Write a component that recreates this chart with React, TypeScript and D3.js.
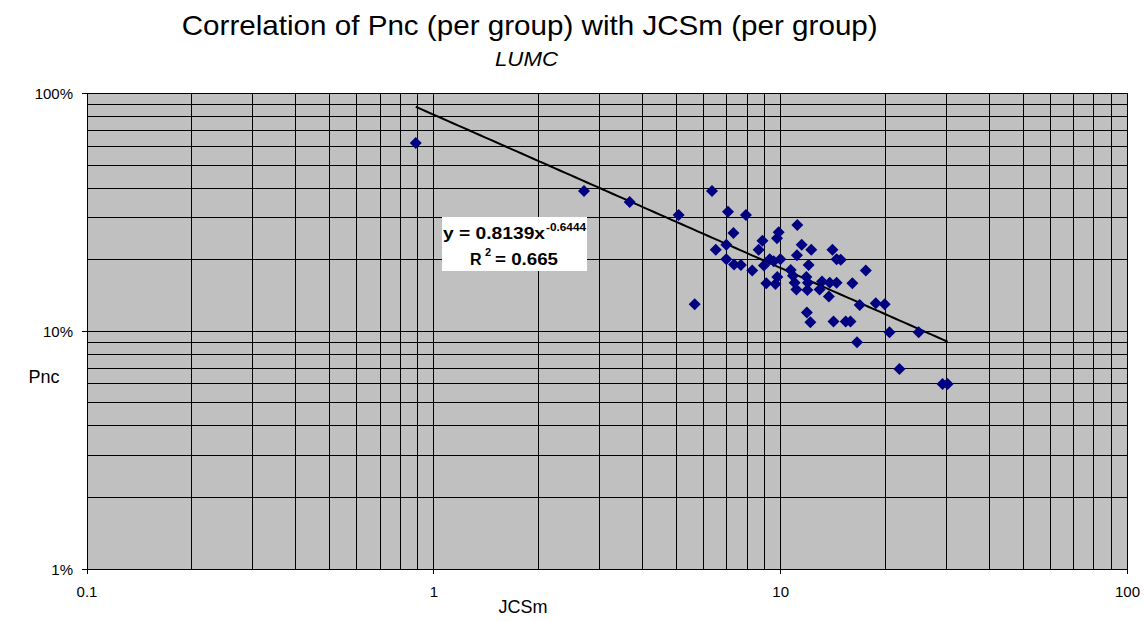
import React from "react";
import * as d3 from "d3";

const jcsm: number[] = [
  0.887, 2.71, 3.67, 5.08, 5.65, 6.34, 7.05, 7.94, 11.17, 7.31,
  9.87, 9.76, 8.86, 6.97, 11.5, 12.25, 14.1, 6.5, 8.64, 11.14,
  14.5, 14.9, 6.97, 9.3, 9.98, 7.34, 7.68, 8.95, 9.55, 12.04,
  17.6, 8.28, 10.69, 10.85, 11.86, 9.78, 9.09, 9.66, 10.97, 11.98,
  13.16, 13.85, 14.5, 16.1, 11.1, 11.94, 12.95, 13.77, 16.9, 18.8,
  19.95, 11.9, 12.18, 14.2, 15.4, 15.9, 20.6, 25.0, 16.6, 22.0,
  29.3, 30.3,
];
const pnc: number[] = [
  0.619, 0.389, 0.35, 0.308, 0.13, 0.389, 0.318, 0.308, 0.28, 0.259,
  0.261, 0.246, 0.24, 0.231, 0.231, 0.22, 0.22, 0.22, 0.22, 0.209,
  0.201, 0.2, 0.201, 0.201, 0.201, 0.191, 0.19, 0.189, 0.197, 0.19,
  0.18, 0.18, 0.181, 0.171, 0.169, 0.169, 0.159, 0.158, 0.16, 0.16,
  0.162, 0.16, 0.16, 0.159, 0.15, 0.149, 0.15, 0.14, 0.129, 0.131,
  0.13, 0.12, 0.109, 0.11, 0.11, 0.11, 0.099, 0.099, 0.09, 0.0694,
  0.06, 0.06,
];

const xTickLabels = ["0.1", "1", "10", "100"];
const yTickLabels = ["1%", "10%", "100%"];
const fitA = 0.8139;
const fitB = -0.6444;
const fitR2 = "0.665";

const W = 1148, H = 621;
const L = 87, R = 1127.5, T = 93.5, B = 569;

export default function App() {
  const x = d3.scaleLog().domain([0.1, 100]).range([L, R]);
  const y = d3.scaleLog().domain([0.01, 1]).range([B, T]);

  const xMinor: number[] = [];
  const yMinor: number[] = [];
  for (const dec of [0.1, 1, 10]) for (let k = 1; k <= 10; k++) xMinor.push(dec * k);
  for (const dec of [0.01, 0.1]) for (let k = 1; k <= 10; k++) yMinor.push(dec * k);

  const xMin = d3.min(jcsm)!, xMax = d3.max(jcsm)!;
  const fitPts = d3.range(0, 101).map(i => {
    const xv = xMin * Math.pow(xMax / xMin, i / 100);
    return [x(xv), y(fitA * Math.pow(xv, fitB))] as [number, number];
  });
  const line = d3.line()(fitPts) || "";
  const diamond = (cx: number, cy: number) => `M${cx},${cy - 6}L${cx + 6},${cy}L${cx},${cy + 6}L${cx - 6},${cy}Z`;
  const font = "'Liberation Sans', Arial, sans-serif";

  return (
    <svg width={W} height={H} style={{ position: "absolute", left: 0, top: 0, background: "#fff" }} fontFamily={font}>
      <rect x={L} y={T} width={R - L} height={B - T} fill="#C0C0C0" />
      <g shapeRendering="crispEdges" stroke="#000" strokeWidth={1}>
        {xMinor.map((v, i) => (
          <line key={"gx" + i} x1={x(v)} x2={x(v)} y1={T} y2={B} />
        ))}
        {yMinor.map((v, i) => (
          <line key={"gy" + i} x1={L} x2={R} y1={y(v)} y2={y(v)} />
        ))}
        {[0.1, 1, 10, 100].map((v, i) => (
          <line key={"tx" + i} x1={x(v)} x2={x(v)} y1={B} y2={B + 5} />
        ))}
        {[0.01, 0.1, 1].map((v, i) => (
          <line key={"ty" + i} x1={L - 5} x2={L} y1={y(v)} y2={y(v)} />
        ))}
        <rect x={L} y={T} width={R - L} height={B - T} fill="none" />
      </g>
      <path d={line} fill="none" stroke="#000" strokeWidth={2} />
      {jcsm.map((v, i) => (
        <path key={"p" + i} d={diamond(x(v), y(pnc[i]))} fill="#000080" />
      ))}
      <rect x={442} y={217} width={145} height={54} fill="#fff" />
      <g fontWeight="bold" fill="#000">
        <text x={443} y={238.5} fontSize={16} textLength={102} lengthAdjust="spacingAndGlyphs">{`y = ${fitA}x`}</text>
        <text x={546} y={230.5} fontSize={11} textLength={40} lengthAdjust="spacingAndGlyphs">{fitB}</text>
        <text x={470} y={265} fontSize={16}>R</text>
        <text x={485} y={256} fontSize={11}>2</text>
        <text x={495} y={265} fontSize={16} textLength={63} lengthAdjust="spacingAndGlyphs">{`= ${fitR2}`}</text>
      </g>
      {xTickLabels.map((t, i) => (
        <text key={"xl" + i} x={x(Math.pow(10, i - 1))} y={597} fontSize={15} textAnchor="middle" fill="#000">{t}</text>
      ))}
      {yTickLabels.map((t, i) => (
        <text key={"yl" + i} x={73} y={y(Math.pow(10, i - 2)) + 5.5} fontSize={15} textAnchor="end" fill="#000">{t}</text>
      ))}
      <text x={181.7} y={35} fontSize={28} textLength={696} lengthAdjust="spacingAndGlyphs" fill="#000">Correlation of Pnc (per group) with JCSm (per group)</text>
      <text x={495} y={65.5} fontSize={21} fontStyle="italic" textLength={63} lengthAdjust="spacingAndGlyphs" fill="#000">LUMC</text>
      <text x={523} y={613} fontSize={18} textAnchor="middle" fill="#000">JCSm</text>
      <text x={44} y={383} fontSize={18} textAnchor="middle" fill="#000">Pnc</text>
    </svg>
  );
}
